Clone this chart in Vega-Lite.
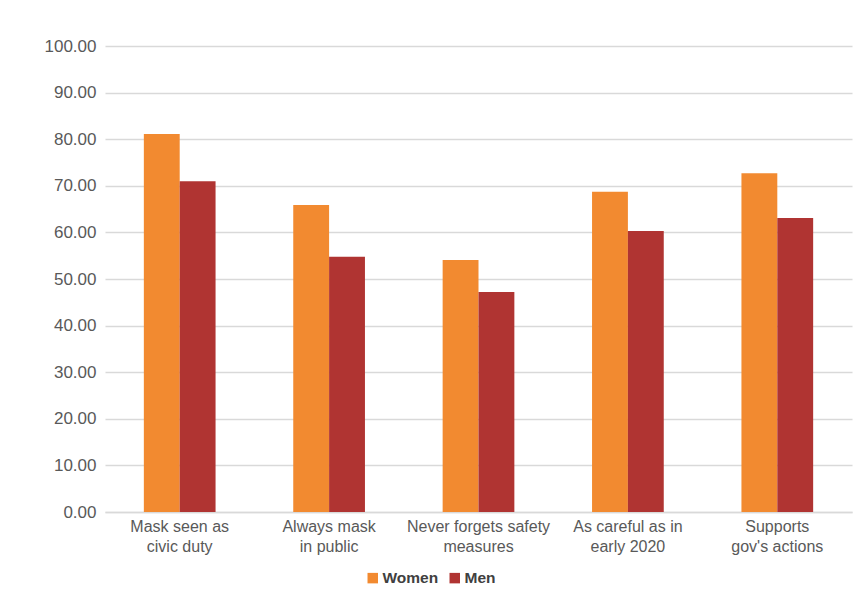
{
  "$schema": "https://vega.github.io/schema/vega-lite/v6.json",
  "width": 747,
  "height": 466,
  "autosize": "none",
  "padding": {"left": 105, "top": 46, "right": 13, "bottom": 95},
  "background": "white",
  "data": {
    "values": [
      {"cat": "Mask seen as|civic duty", "group": "Women", "value": 81.1},
      {"cat": "Mask seen as|civic duty", "group": "Men", "value": 71.0},
      {"cat": "Always mask|in public", "group": "Women", "value": 65.9},
      {"cat": "Always mask|in public", "group": "Men", "value": 54.8},
      {"cat": "Never forgets safety|measures", "group": "Women", "value": 54.1},
      {"cat": "Never forgets safety|measures", "group": "Men", "value": 47.2},
      {"cat": "As careful as in|early 2020", "group": "Women", "value": 68.7},
      {"cat": "As careful as in|early 2020", "group": "Men", "value": 60.3},
      {"cat": "Supports|gov's actions", "group": "Women", "value": 72.7},
      {"cat": "Supports|gov's actions", "group": "Men", "value": 63.1}
    ]
  },
  "mark": {"type": "bar"},
  "encoding": {
    "x": {
      "field": "cat",
      "type": "nominal",
      "sort": null,
      "scale": {"paddingInner": 0.52, "paddingOuter": 0.26},
      "axis": {
        "title": null,
        "labelAngle": 0,
        "labelExpr": "split(datum.label, '|')",
        "labelFont": "Liberation Sans",
        "labelFontSize": 16,
        "labelColor": "#595959",
        "labelLineHeight": 20,
        "labelPadding": 6,
        "ticks": false,
        "domainColor": "#d9d9d9",
        "domainWidth": 1.5
      }
    },
    "xOffset": {"field": "group", "type": "nominal", "sort": ["Women", "Men"]},
    "y": {
      "field": "value",
      "type": "quantitative",
      "scale": {"domain": [0, 100]},
      "axis": {
        "title": null,
        "values": [0, 10, 20, 30, 40, 50, 60, 70, 80, 90, 100],
        "format": ".2f",
        "domain": false,
        "ticks": false,
        "labelFont": "Liberation Sans",
        "labelFontSize": 17,
        "labelColor": "#595959",
        "labelPadding": 9,
        "gridColor": "#d9d9d9",
        "gridWidth": 1.5
      }
    },
    "color": {
      "field": "group",
      "type": "nominal",
      "sort": ["Women", "Men"],
      "scale": {"domain": ["Women", "Men"], "range": ["#f28a30", "#b03432"]},
      "legend": {
        "title": null,
        "orient": "none",
        "direction": "horizontal",
        "legendX": 260,
        "legendY": 524,
        "symbolType": "square",
        "symbolSize": 110,
        "symbolStrokeWidth": 0,
        "labelFont": "Liberation Sans",
        "labelFontSize": 15.5,
        "labelFontWeight": "bold",
        "labelColor": "#404040",
        "labelOffset": 2,
        "columnPadding": 8
      }
    }
  },
  "config": {"view": {"stroke": null}}
}
